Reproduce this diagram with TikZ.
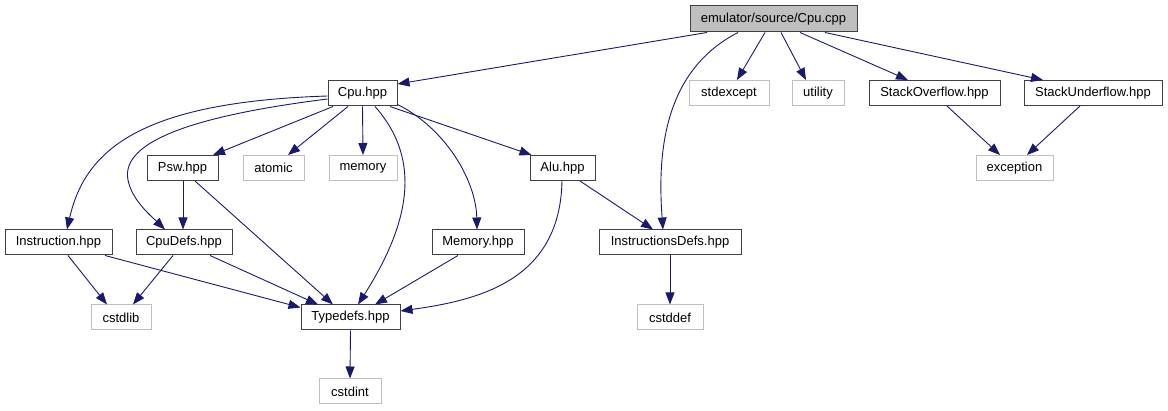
\documentclass[tikz,border=0pt]{standalone}
\usepackage{fontspec}
\setmainfont{Liberation Sans}
\usetikzlibrary{arrows.meta,calc}
\definecolor{edgec}{HTML}{191970}
\definecolor{extc}{HTML}{BFBFBF}
\definecolor{docc}{HTML}{404040}
\begin{document}
\begin{tikzpicture}[x=1pt,y=-1pt,
  box/.style={rectangle,inner sep=0pt,minimum height=25pt,font=\fontsize{13}{15}\selectfont,line width=1pt},
  doc/.style={box,draw=docc},
  ext/.style={box,draw=extc},
  root/.style={box,draw=docc,fill=extc},
  dep/.style={draw=edgec,line width=0.9pt,-{Triangle[length=12pt,width=9pt]}}]
\useasboundingbox (0,0) rectangle (1168,411);
% nodes
\node[root,minimum width=167pt,minimum height=26pt] (cpp) at (773.5,19) {emulator/source/Cpu.cpp};
\node[doc,minimum width=69pt] (cpuhpp) at (362.5,93.5) {Cpu.hpp};
\node[ext,minimum width=80pt] (stdexcept) at (729,93) {stdexcept};
\node[ext,minimum width=52pt] (utility) at (818,93) {utility};
\node[doc,minimum width=131pt] (sof) at (934.5,93) {StackOverflow.hpp};
\node[doc,minimum width=138pt] (suf) at (1093,93) {StackUnderflow.hpp};
\node[doc,minimum width=71pt] (psw) at (182.5,168) {Psw.hpp};
\node[ext,minimum width=61pt] (atomic) at (273.5,168) {atomic};
\node[ext,minimum width=68pt] (memory) at (363,168) {memory};
\node[doc,minimum width=65pt] (alu) at (562.5,168) {Alu.hpp};
\node[ext,minimum width=77pt] (exception) at (1014.5,168) {exception};
\node[doc,minimum width=107pt] (instr) at (58.5,242.5) {Instruction.hpp};
\node[doc,minimum width=96pt] (cpudefs) at (184,242.5) {CpuDefs.hpp};
\node[doc,minimum width=92pt] (memhpp) at (478,242.5) {Memory.hpp};
\node[doc,minimum width=142pt] (idefs) at (670,242.5) {InstructionsDefs.hpp};
\node[ext,minimum width=60pt] (cstdlib) at (121,317.5) {cstdlib};
\node[doc,minimum width=99pt] (typedefs) at (350.5,317.5) {Typedefs.hpp};
\node[ext,minimum width=66pt] (cstddef) at (670,317.5) {cstddef};
\node[ext,minimum width=62pt] (cstdint) at (350,391.5) {cstdint};
% edges from Cpu.cpp
\draw[dep] ($(cpp.south)+(-66.5,0)$) -- ($(cpuhpp.east)+(0,-9.5)$);
\draw[dep] ($(cpp.south)+(-35.5,0)$) .. controls (665,70) and (657,150) .. ($(idefs.north)+(-7,0)$);
\draw[dep] ($(cpp.south)+(-8.5,0)$) -- ($(stdexcept.north)+(8,0)$);
\draw[dep] ($(cpp.south)+(7.5,0)$) -- ($(utility.north)+(-12,0)$);
\draw[dep] ($(cpp.south)+(26.5,0)$) -- ($(sof.north)+(-26.5,0)$);
\draw[dep] ($(cpp.south)+(51.5,0)$) -- ($(suf.north)+(-50,0)$);
\draw[dep] ($(sof.south)+(12.5,0)$) -- ($(exception.north)+(-14.5,0)$);
\draw[dep] ($(suf.south)+(-13,0)$) -- ($(exception.north)+(12.5,0)$);
% edges from Cpu.hpp
\draw[dep] ($(cpuhpp.south)+(-29.5,0)$) -- ($(psw.north)+(30.5,0)$);
\draw[dep] ($(cpuhpp.south)+(-14.5,0)$) -- ($(atomic.north)+(14.5,0)$);
\draw[dep] (cpuhpp.south) -- (memory.north);
\draw[dep] ($(cpuhpp.south)+(27.5,0)$) -- ($(alu.north)+(-31,0)$);
\draw[dep] ($(cpuhpp.south east)+(0,-2)$) .. controls (445,128) and (476,180) .. ($(memhpp.north)+(-1,0)$);
\draw[dep] ($(cpuhpp.south)+(12.5,0)$) .. controls (418,155) and (415,215) .. ($(typedefs.north)+(7.5,0)$);
\draw[dep] ($(cpuhpp.west)+(0,2.5)$) .. controls (140,102) and (85,150) .. ($(instr.north)+(8.5,0)$);
\draw[dep] ($(cpuhpp.west)+(0,5.5)$) .. controls (200,115) and (120,140) .. (128,180) .. controls (132,200) and (150,215) .. ($(cpudefs.north)+(-19,0)$);
% lower edges
\draw[dep] ($(psw.south)+(0.5,0)$) -- ($(cpudefs.north)+(-1,0)$);
\draw[dep] ($(psw.south)+(12.5,0)$) -- ($(typedefs.north)+(-17.5,0)$);
\draw[dep] ($(instr.south)+(9.5,0)$) -- ($(cstdlib.north)+(-14,0)$);
\draw[dep] ($(instr.south)+(46.5,0)$) -- ($(typedefs.west)+(0,-10)$);
\draw[dep] ($(cpudefs.south)+(-11,0)$) -- ($(cstdlib.north)+(12,0)$);
\draw[dep] ($(cpudefs.south)+(26,0)$) -- ($(typedefs.north)+(-32.5,0)$);
\draw[dep] ($(memhpp.south)+(-20,0)$) -- ($(typedefs.north)+(24.5,0)$);
\draw[dep] ($(alu.south)+(-0.5,0)$) .. controls (560,280) and (480,300) .. ($(typedefs.east)+(0,-6.5)$);
\draw[dep] ($(alu.south)+(17.5,0)$) -- ($(idefs.north)+(-17,0)$);
\draw[dep] (idefs.south) -- (cstddef.north);
\draw[dep] (typedefs.south) -- (cstdint.north);
\end{tikzpicture}
\end{document}
